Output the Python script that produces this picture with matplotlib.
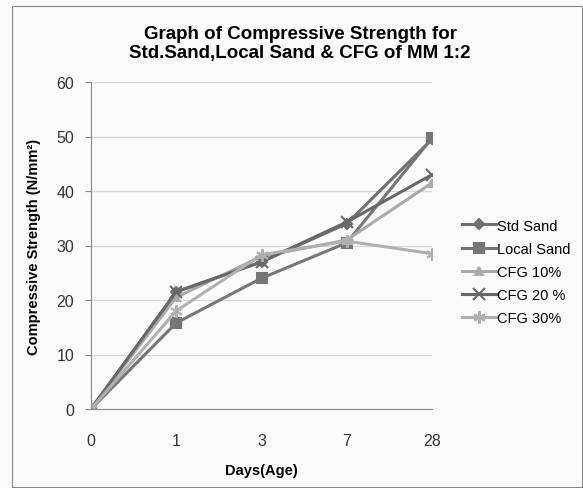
import numpy as np
import matplotlib.pyplot as plt
from matplotlib.patches import Rectangle

plt.rcParams['font.family'] = ['Liberation Sans', 'DejaVu Sans']

days = ['0', '1', '3', '7', '28']
std_sand = [0, 21.5, 27.0, 34.0, 49.5]
local_sand = [0, 15.8, 24.0, 30.5, 49.7]
cfg_10 = [0, 20.5, 28.0, 31.0, 41.5]
cfg_20 = [0, 21.5, 27.0, 34.3, 43.0]
cfg_30 = [0, 18.0, 28.3, 30.8, 28.5]

series = [
    ('Std Sand', std_sand, '#707070', 'D', 5),
    ('Local Sand', local_sand, '#767676', 's', 7),
    ('CFG 10%', cfg_10, '#aaaaaa', '^', 6),
    ('CFG 20 %', cfg_20, '#686868', 'x', 8),
    ('CFG 30%', cfg_30, '#b0b0b0', (6, 2, 0), 9),
]

fig = plt.figure(figsize=(5.83, 4.89), dpi=100, facecolor='#fbfbfb')
fig.patches.append(Rectangle((12 / 583, 1 / 489), 570 / 583, 481 / 489,
                             transform=fig.transFigure, fill=False,
                             edgecolor='#888888', lw=0.8))
ax = fig.add_axes([91 / 583, 1 - 410 / 489, 341 / 583, 327 / 489])
ax.set_facecolor('#fbfbfb')

x = np.arange(len(days))
for name, vals, col, mk, ms in series:
    ax.plot(x, vals, color=col, lw=2.2, marker=mk, markersize=ms,
            markeredgewidth=1.5, label=name)

ax.set_xlim(0, len(days) - 1)
ax.set_ylim(0, 60)
ax.set_yticks(np.arange(0, 61, 10))
ax.set_xticks(x)
ax.set_xticklabels(days)
ax.grid(axis='y', color='#d8d8d8', lw=0.9)
ax.set_axisbelow(True)
for s in ['top', 'right']:
    ax.spines[s].set_visible(False)
for s in ['left', 'bottom']:
    ax.spines[s].set_color('#888888')
ax.tick_params(axis='y', length=4, color='#888888', labelsize=11.5, pad=8)
ax.tick_params(axis='x', length=0, labelsize=11.5, pad=17)
for lab in ax.get_xticklabels() + ax.get_yticklabels():
    lab.set_color('#333333')

ax.set_xlabel('Days(Age)', fontsize=10.5, fontweight='bold', labelpad=11)
ax.set_ylabel('Compressive Strength (N/mm²)', fontsize=10.5, fontweight='bold', labelpad=11)
fig.text(0.515, 1 - 44 / 489, 'Graph of Compressive Strength for\nStd.Sand,Local Sand & CFG of MM 1:2',
         ha='center', va='center', fontsize=13.5, fontweight='bold', linespacing=1.1)

ax.legend(loc='center left', bbox_to_anchor=(1.05, 0.42), frameon=False,
          fontsize=10.5, handlelength=2.3, handletextpad=0.1, labelspacing=0.62)

fig.savefig('out.png', dpi=100, facecolor=fig.get_facecolor())
